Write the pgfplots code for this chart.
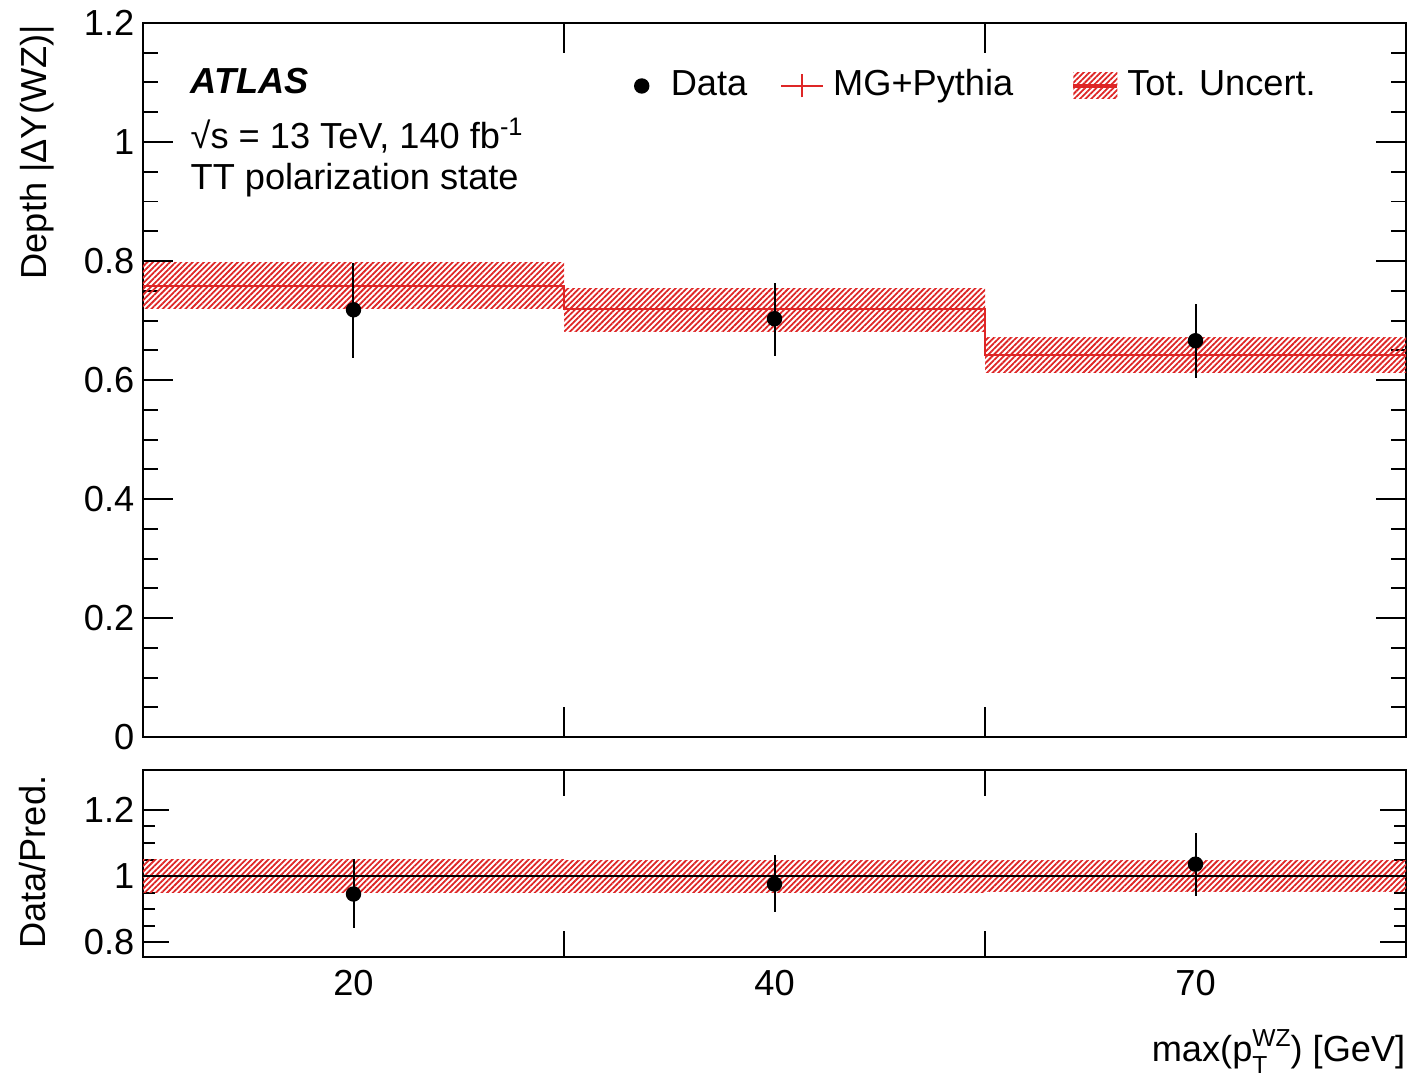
\documentclass[border=0pt]{standalone}
\usepackage{fontspec}
\setmainfont{Liberation Sans}
\usepackage{pgfplots}
\pgfplotsset{compat=1.18}
\usetikzlibrary{patterns.meta}

\definecolor{mcred}{RGB}{222,38,38}
\tikzset{hatch/.style={pattern={Lines[angle=45,distance=0.4mm,line width=0.18mm]},pattern color=mcred}}

\pgfplotsset{
  atlas/.style={
    scale only axis,
    anchor=south west,
    width=126.3mm,
    xmin=0, xmax=3,
    xtick={1,2,3},
    axis line style={line width=0.2mm},
    tick style={line width=0.2mm, black},
    tick align=inside,
    xtick pos=both, ytick pos=both,
    /pgf/number format/assume math mode=true,
    yticklabel style={xshift=0.4mm},
    label style={inner sep=0pt},
  },
  databars/.style={black, only marks, mark=*, mark size=0.7mm,
    error bars/y dir=both, error bars/y explicit, error bars/error mark=none,
    error bars/error bar style={line width=0.2mm, black}},
}
\newcommand{\sm}{\fontsize{7}{8}\selectfont}

\begin{document}
\fontsize{10.3}{12.4}\selectfont
\begin{tikzpicture}

% upper panel
\begin{axis}[atlas,
  at={(14.3mm,-73.7mm)},
  height=71.4mm,
  ymin=0, ymax=1.2,
  ytick={0,0.2,0.4,0.6,0.8,1,1.2},
  minor y tick num=3,
  major tick length=3mm, minor tick length=1.5mm,
  xticklabels={},
  ylabel={Depth |ΔY(WZ)|},
  ylabel style={at={(axis description cs:-0.07,0.998)}, anchor=south east},
  legend columns=-1,
  legend style={draw=none, fill=none, inner sep=0pt, outer sep=0pt,
    at={(rel axis cs:0.3888,0.9118)}, anchor=west,
    cells={anchor=west},
    nodes={inner sep=0pt, text height=0.72em, text depth=0.22em}},
]
% uncertainty band, one box per bin
\addplot[draw=none, hatch, forget plot] coordinates {(0,0.721) (1,0.721) (1,0.797) (0,0.797)} --cycle;
\addplot[draw=none, hatch, forget plot] coordinates {(1,0.682) (2,0.682) (2,0.753) (1,0.753)} --cycle;
\addplot[draw=none, hatch, forget plot] coordinates {(2,0.612) (3,0.612) (3,0.671) (2,0.671)} --cycle;
% MG+Pythia prediction
\addplot[mcred, line width=0.2mm, const plot, forget plot] coordinates {(0,0.758) (1,0.719) (2,0.642) (3,0.642)};
% data
\addplot[forget plot, databars] coordinates {
  (0.5,0.718) += (0,0.079) -= (0,0.081)
  (1.5,0.703) += (0,0.060) -= (0,0.063)
  (2.5,0.666) += (0,0.062) -= (0,0.063)
};

\addlegendimage{legend image code/.code={
  \path[draw=none,fill=none] (-0.7mm,-1.3mm) rectangle (2.9mm,1.3mm);
  \fill[black] (0,0) circle (0.7mm);}}
\addlegendentry{Data}
\addlegendimage{legend image code/.code={
  \path[draw=none,fill=none] (-3.4mm,-1.3mm) rectangle (5.2mm,1.3mm);
  \draw[mcred, line width=0.2mm] (0,0) -- (4.2mm,0) (2.1mm,-1.15mm) -- (2.1mm,1.15mm);}}
\addlegendentry{MG+Pythia}
\addlegendimage{legend image code/.code={
  \path[draw=none,fill=none] (-6.0mm,-1.3mm) rectangle (5.4mm,1.3mm);
  \path[draw=none, hatch] (0,-1.3mm) rectangle (4.4mm,1.3mm);
  \draw[mcred, line width=0.45mm] (0,0) -- (4.4mm,0);}}
\addlegendentry{Tot. Uncert.}

\node[anchor=base west, inner sep=0pt, font=\bfseries\itshape] at (rel axis cs:0.0372,0.9006) {ATLAS};
\node[anchor=base west, inner sep=0pt] at (rel axis cs:0.0372,0.8249) {√s = 13 TeV, 140 fb\textsuperscript{-1}};
\node[anchor=base west, inner sep=0pt] at (rel axis cs:0.0372,0.7675) {TT polarization state};
\end{axis}

% ratio panel
\begin{axis}[atlas,
  at={(14.3mm,-95.7mm)},
  height=18.7mm,
  ymin=0.756, ymax=1.32,
  ytick={0.8,1,1.2},
  minor y tick num=3,
  major tick length=2.6mm, minor tick length=1.2mm,
  xticklabels={20,40,70},
  xticklabel style={xshift=-21.05mm},
  xlabel={max(p\raisebox{-0.33em}{\sm\shortstack[l]{WZ\\T}}) [GeV]},
  xlabel style={at={(axis description cs:1,-0.56)}, anchor=base east},
  ylabel={Data/Pred.},
  ylabel style={at={(axis description cs:-0.076,0.973)}, anchor=south east},
]
\addplot[draw=none, hatch] coordinates {(0,0.951) (1,0.951) (1,1.049) (0,1.049)} --cycle;
\addplot[draw=none, hatch] coordinates {(1,0.952) (2,0.952) (2,1.048) (1,1.048)} --cycle;
\addplot[draw=none, hatch] coordinates {(2,0.953) (3,0.953) (3,1.047) (2,1.047)} --cycle;
\addplot[black, line width=0.2mm] coordinates {(0,1) (3,1)};
\addplot[databars] coordinates {
  (0.5,0.946) += (0,0.105) -= (0,0.104)
  (1.5,0.976) += (0,0.087) -= (0,0.083)
  (2.5,1.036) += (0,0.095) -= (0,0.096)
};
\end{axis}

\pgfresetboundingbox
\useasboundingbox (0,0) rectangle (140.8mm,-107.7mm);
\end{tikzpicture}
\end{document}
